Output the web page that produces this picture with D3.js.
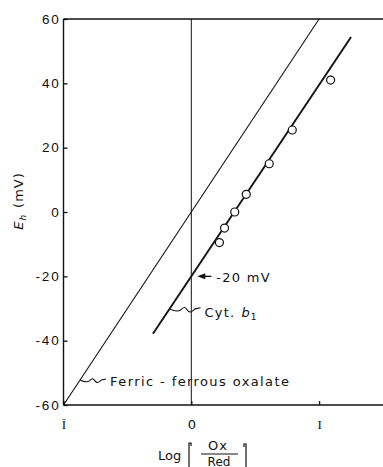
<!doctype html>
<html>
  <head>
    <meta charset="utf-8">
    <title>Eh vs Log(Ox/Red)</title>
    <script src="https://cdnjs.cloudflare.com/ajax/libs/d3/7.8.5/d3.min.js"></script>
    <style>
      html, body { margin: 0; background: #fff; overflow: hidden; }
      svg { display: block; font-family: "DejaVu Sans", Verdana, sans-serif; overflow: hidden; }
    </style>
  </head>
  <body>
    <div id="chart"></div>
    <script>
      // measured points for cytochrome b1 (log Ox/Red, Eh in mV)
      const cytLog = [0.22, 0.26, 0.34, 0.43, 0.61, 0.79, 1.09];
      const cytEh  = [-9.5, -5, 0, 5.5, 15, 25.5, 41];

      // fitted lines: [start, end] in log units, with midpoint potential and slope
      const cytLine = [-0.3, 1.25];
      const cytE0 = -20;
      const ferricLine = [-1, 1.0];
      const ferricE0 = 0;
      const slope = 59.5;

      const xTicks = [-1, 0, 1];
      const xTickLabels = ['Ī', '0', 'I'];
      const yTicks = [-60, -40, -20, 0, 20, 40, 60];

      const W = 383, H = 467;
      const ink = '#111';
      const svg = d3.select('#chart').append('svg')
        .attr('width', W).attr('height', H);

      const x = d3.scaleLinear().domain([-1, 1.5]).range([63.5, 383]);
      const y = d3.scaleLinear().domain([-60, 60]).range([405, 19]);

      // y axis
      const yAxis = svg.append('g')
        .attr('transform', `translate(${x(-1)},0)`)
        .call(d3.axisLeft(y).tickValues(yTicks).tickSize(-4).tickSizeOuter(0).tickPadding(3)
          .tickFormat(d => d < 0 ? '-' + Math.abs(d) : String(d)));
      yAxis.selectAll('text').attr('font-size', 13.5).attr('fill', ink)
        .attr('letter-spacing', 1.8);

      // x axis (ticks and labels, the base line is drawn below)
      const xAxis = svg.append('g')
        .attr('transform', `translate(0,${y(-60)})`)
        .call(d3.axisBottom(x).tickValues(xTicks).tickSize(-4).tickSizeOuter(0).tickPadding(15)
          .tickFormat((d, i) => xTickLabels[i]));
      xAxis.select('.domain').remove();
      yAxis.select('.domain').remove();
      xAxis.selectAll('text').attr('font-size', 13).attr('fill', ink)
        .attr('font-family', d => d === 0 ? '"DejaVu Sans", sans-serif' : '"Liberation Serif", serif');
      svg.selectAll('.tick line').attr('stroke', ink).attr('stroke-width', 1.3);

      // frame: left, bottom, top and the zero line
      svg.append('line')
        .attr('x1', x(-1)).attr('x2', x(-1)).attr('y1', y(60)).attr('y2', y(-60))
        .attr('stroke', ink).attr('stroke-width', 1.4);
      svg.append('line')
        .attr('x1', x(-1)).attr('x2', W).attr('y1', y(-60)).attr('y2', y(-60))
        .attr('stroke', ink).attr('stroke-width', 1.4);
      svg.append('line')
        .attr('x1', x(-1)).attr('x2', W).attr('y1', y(60)).attr('y2', y(60))
        .attr('stroke', ink).attr('stroke-width', 1.4);
      svg.append('line')
        .attr('x1', x(0)).attr('x2', x(0)).attr('y1', y(60)).attr('y2', y(-60))
        .attr('stroke', ink).attr('stroke-width', 1);

      // ferric-ferrous oxalate line
      svg.append('line')
        .attr('x1', x(ferricLine[0])).attr('y1', y(ferricE0 + 60 * ferricLine[0]))
        .attr('x2', x(ferricLine[1])).attr('y2', y(ferricE0 + 60 * ferricLine[1]))
        .attr('stroke', ink).attr('stroke-width', 1.1);

      // cyt b1 line
      svg.append('line')
        .attr('x1', x(cytLine[0])).attr('y1', y(cytE0 + slope * cytLine[0]))
        .attr('x2', x(cytLine[1])).attr('y2', y(cytE0 + slope * cytLine[1]))
        .attr('stroke', ink).attr('stroke-width', 1.9);

      // data circles
      svg.selectAll('circle.pt')
        .data(cytLog.map((l, i) => ({ l, e: cytEh[i] })))
        .join('circle')
        .attr('class', 'pt')
        .attr('cx', d => x(d.l)).attr('cy', d => y(d.e)).attr('r', 4)
        .attr('fill', '#fff').attr('stroke', ink).attr('stroke-width', 1.2);

      // squiggle leader from a line to its label
      const squiggle = (x0, y0, len) => {
        const k = len / 28;
        return `M${x0},${y0} c${4*k},${2*k} ${7*k},${3*k} ${10*k},${1*k}` +
               ` c${3*k},${-3*k} ${4*k},${-3*k} ${6*k},${0}` +
               ` c${2*k},${3*k} ${4*k},${2*k} ${7*k},${-1*k}` +
               ` l${5*k},${-1*k}`;
      };

      // cyt b1 annotation
      const cytAt = -0.17;
      const cx0 = x(cytAt), cy0 = y(cytE0 + slope * cytAt);
      svg.append('path')
        .attr('d', squiggle(cx0, cy0, 31))
        .attr('fill', 'none').attr('stroke', ink).attr('stroke-width', 1.1);
      const cytLabel = svg.append('text')
        .attr('x', cx0 + 35).attr('y', cy0 + 8)
        .attr('font-size', 13).attr('letter-spacing', 1.2).attr('fill', ink);
      cytLabel.append('tspan').text('Cyt.');
      cytLabel.append('tspan').attr('dx', 6).attr('font-style', 'italic').text('b');
      cytLabel.append('tspan').attr('font-size', 9).attr('dy', 3).text('1');

      // ferric annotation
      const ferAt = -0.87;
      const fx0 = x(ferAt), fy0 = y(ferricE0 + 60 * ferAt);
      svg.append('path')
        .attr('d', squiggle(fx0, fy0, 26))
        .attr('fill', 'none').attr('stroke', ink).attr('stroke-width', 1.1);
      svg.append('text')
        .attr('x', fx0 + 30).attr('y', fy0 + 6)
        .attr('font-size', 13).attr('letter-spacing', 1.4).attr('fill', ink)
        .text('Ferric - ferrous oxalate');

      // -20 mV arrow
      const ay = y(cytE0);
      svg.append('line')
        .attr('x1', x(0) + 10).attr('x2', x(0) + 20).attr('y1', ay).attr('y2', ay)
        .attr('stroke', ink).attr('stroke-width', 1.3);
      svg.append('path')
        .attr('d', `M${x(0) + 6},${ay} l8,-3 l0,6 z`)
        .attr('fill', ink);
      svg.append('text')
        .attr('x', x(0) + 25).attr('y', ay + 6)
        .attr('font-size', 13).attr('letter-spacing', 1.3).attr('fill', ink)
        .text('-20 mV');

      // y axis title
      const yt = svg.append('text')
        .attr('transform', `translate(23,201) rotate(-90)`)
        .attr('text-anchor', 'middle').attr('font-size', 13).attr('fill', ink)
        .attr('letter-spacing', 1);
      yt.append('tspan').attr('font-style', 'italic').text('E');
      yt.append('tspan').attr('font-style', 'italic').attr('font-size', 9).attr('dy', 3).text('h');
      yt.append('tspan').attr('dy', -3).attr('dx', 6).text('(mV)');

      // x axis title: Log [Ox/Red]
      svg.append('text')
        .attr('x', 158).attr('y', 460).attr('font-size', 13).attr('fill', ink).text('Log');
      svg.append('path')
        .attr('d', 'M191,446 l0,-3 l-2,0 l0,26')
        .attr('fill', 'none').attr('stroke', ink).attr('stroke-width', 1.2);
      svg.append('path')
        .attr('d', 'M244,447 l0,-3 l2,0 l0,26')
        .attr('fill', 'none').attr('stroke', ink).attr('stroke-width', 1.2);
      svg.append('text')
        .attr('x', 218).attr('y', 450).attr('text-anchor', 'middle')
        .attr('font-size', 13).attr('letter-spacing', 1).attr('fill', ink).text('Ox');
      svg.append('line')
        .attr('x1', 201).attr('x2', 238).attr('y1', 454).attr('y2', 454)
        .attr('stroke', ink).attr('stroke-width', 1.2);
      svg.append('text')
        .attr('x', 219).attr('y', 465.5).attr('text-anchor', 'middle')
        .attr('font-size', 12).attr('fill', ink).text('Red');
    </script>
  </body>
</html>
